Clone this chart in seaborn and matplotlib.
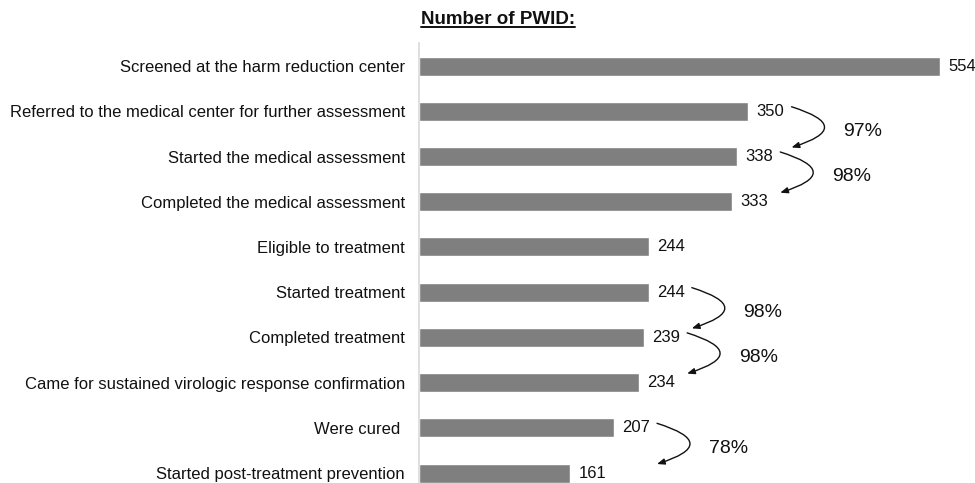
import matplotlib
matplotlib.use('Agg')
import matplotlib.pyplot as plt
import seaborn as sns
from matplotlib.lines import Line2D

# data
steps = [
    'Screened at the harm reduction center',
    'Referred to the medical center for further assessment',
    'Started the medical assessment',
    'Completed the medical assessment',
    'Eligible to treatment',
    'Started treatment',
    'Completed treatment',
    'Came for sustained virologic response confirmation',
    'Were cured ',
    'Started post-treatment prevention',
]
counts = [554, 350, 338, 333, 244, 244, 239, 234, 207, 161]

# transitions: index of upper step, percentage label
trans_from = [1, 2, 5, 6, 8]
trans_pct = ['97%', '98%', '98%', '98%', '78%']

sns.set_style('white')
plt.rcParams['font.family'] = ['Liberation Sans', 'DejaVu Sans']

fig = plt.figure(figsize=(9.75, 4.83), dpi=100)
ax = fig.add_axes([419 / 975, 0.0, 556 / 975, 1 - 43 / 483])

sns.barplot(x=counts, y=steps, orient='h', color='#7f7f7f', width=0.42,
            saturation=1, ax=ax)

ax.set_xlim(0, 591)
ax.set_ylim(9.22, -0.51)
ax.set_xticks([])
ax.set_xlabel('')
ax.set_ylabel('')
ax.tick_params(axis='y', length=0, pad=10, labelsize=12, labelcolor='#111111')
for side in ['top', 'right', 'bottom']:
    ax.spines[side].set_visible(False)
ax.spines['left'].set_color('#d9d9d9')
ax.spines['left'].set_linewidth(1.2)

ax.bar_label(ax.containers[0], padding=6, fontsize=12, color='#111111')

# curved arrows with retention percentages
for i, pct in zip(trans_from, trans_pct):
    x = max(counts[i], counts[i + 1]) + 46
    ax.annotate('', xy=(x, i + 0.8), xytext=(x, i - 0.1),
                arrowprops=dict(arrowstyle='-|>,head_length=0.45,head_width=0.18',
                                connectionstyle='arc3,rad=-1.6', color='#111111',
                                lw=1, shrinkA=0, shrinkB=0))
    ax.text(x + 55, i + 0.45, pct, fontsize=14, va='center', ha='left',
            color='#111111')

# underlined bold title
title = fig.text(421 / 975, 1 - 20 / 483, 'Number of PWID:', fontsize=13.5,
                 fontweight='bold', ha='left', va='center', color='#111111')
fig.canvas.draw()
bb = title.get_window_extent(renderer=fig.canvas.get_renderer())
bb = bb.transformed(fig.transFigure.inverted())
fig.add_artist(Line2D([bb.x0, bb.x1], [bb.y0 + 0.003, bb.y0 + 0.003],
                      transform=fig.transFigure, color='#111111', lw=1.4))

fig.savefig('out.png', dpi=100)
